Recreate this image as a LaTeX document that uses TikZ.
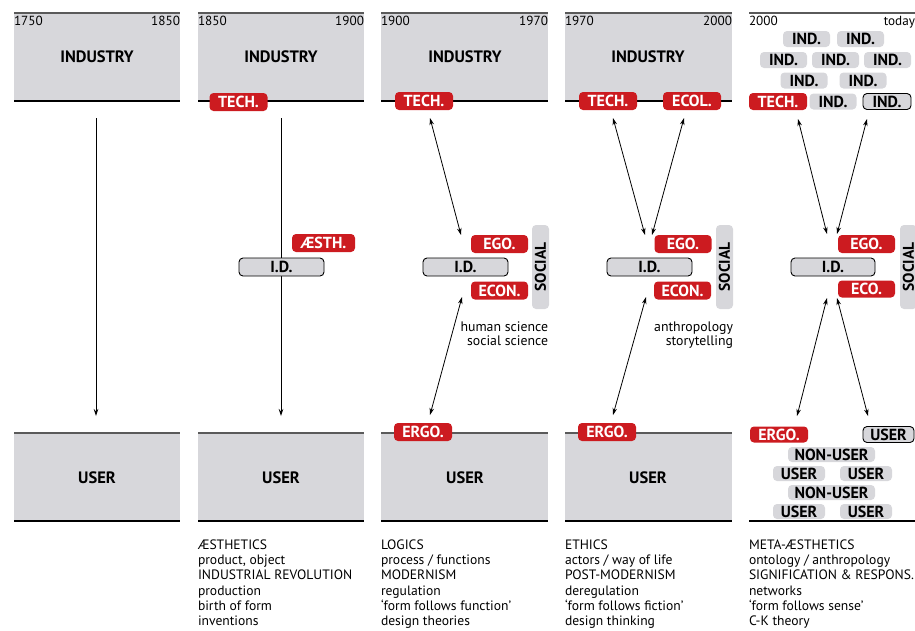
\documentclass[tikz,border=0pt]{standalone}
\usepackage{fontspec}
\setmainfont{PT Sans}
\usetikzlibrary{arrows.meta}
\definecolor{lred}{RGB}{204,27,32}
\definecolor{lgrey}{RGB}{215,215,219}
\definecolor{dline}{RGB}{90,90,90}
\begin{document}
\begin{tikzpicture}[x=1pt,y=-1pt,
  every node/.style={inner sep=0pt, outer sep=0pt},
  panel/.style={fill=lgrey},
  topline/.style={draw=dline, line width=2pt},
  botline/.style={draw=black, line width=1.1pt},
  title/.style={font=\fontsize{16.5}{17}\selectfont\bfseries},
  year/.style={font=\fontsize{13.2}{14}\selectfont, anchor=base},
  lab/.style={rounded corners=4pt, font=\fontsize{16}{16}\selectfont\bfseries, minimum height=18pt},
  redlab/.style={lab, fill=lred, text=white, minimum width=58pt},
  greylab/.style={lab, fill=lgrey, text=black, minimum width=47pt, minimum height=16pt},
  greyout/.style={greylab, draw=black, line width=0.9pt},
  idbox/.style={lab, fill=lgrey, draw=black, line width=0.9pt, minimum width=85pt},
  social/.style={lab, fill=lgrey, rotate=90, minimum width=84pt, minimum height=17pt, font=\fontsize{15.5}{16}\selectfont\bfseries},
  note/.style={font=\fontsize{13.8}{15}\selectfont, anchor=base east},
  desc/.style={font=\fontsize{13.6}{15}\selectfont, anchor=base west},
  arr/.style={draw=black, line width=0.8pt, -{Stealth[length=7pt,width=4.5pt]}},
  darr/.style={draw=black, line width=0.8pt, {Stealth[length=7pt,width=4.5pt]}-{Stealth[length=7pt,width=4.5pt]}}
]
\useasboundingbox (0,0) rectangle (915,630);

% ---- panels ----
\foreach \a/\b in {14/180,198/364,381/548,565/732}{
  \fill[panel] (\a,13) rectangle (\b,101);
  \fill[panel] (\a,433) rectangle (\b,521);
  \draw[botline] (\a,101) -- (\b,101);
  \draw[botline] (\a,521) -- (\b,521);
  \draw[topline] (\a,13) -- (\b,13);
  \draw[topline] (\a,433) -- (\b,433);
}
\draw[topline] (749,13) -- (915,13);
\draw[botline] (749,521) -- (915,521);

% ---- years ----
\node[year, anchor=base west] (y1a) at (14,25) {1750};
\node[year, anchor=base east] (y1b) at (180,25) {1850};
\node[year, anchor=base west] (y2a) at (198,25) {1850};
\node[year, anchor=base east] (y2b) at (364,25) {1900};
\node[year, anchor=base west] (y3a) at (381,25) {1900};
\node[year, anchor=base east] (y3b) at (548,25) {1970};
\node[year, anchor=base west] (y4a) at (565,25) {1970};
\node[year, anchor=base east] (y4b) at (732,25) {2000};
\node[year, anchor=base west] (y5a) at (749,25) {2000};
\node[year, anchor=base east] (y5b) at (915,25) {today};

% ---- titles ----
\foreach \x [count=\i] in {97,281,465,648}{
  \node[title] (ind\i) at (\x,56.5) {INDUSTRY};
  \node[title] (usr\i) at (\x,477.5) {USER};
}

% ---- arrow coordinates ----
\coordinate (a1s) at (96,118);   \coordinate (a1e) at (96,416);
\coordinate (a2s) at (281,118);  \coordinate (a2e) at (281,416);
\coordinate (a3t) at (430,118);  \coordinate (a3m) at (461,235);
\coordinate (a3n) at (462,297);  \coordinate (a3b) at (430,415);
\coordinate (a4t) at (613,118);  \coordinate (a4m) at (645,235);
\coordinate (a4u) at (684,118);  \coordinate (a4v) at (652,235);
\coordinate (a4n) at (646,297);  \coordinate (a4b) at (613,415);
\coordinate (a5t) at (798,119);  \coordinate (a5m) at (827,234);
\coordinate (a5u) at (867,119);  \coordinate (a5v) at (837,234);
\coordinate (a5n) at (827,298);  \coordinate (a5b) at (797,416);
\coordinate (a5p) at (837,298);  \coordinate (a5q) at (868,416);

\draw[arr] (a1s) -- (a1e);
\draw[arr] (a2s) -- (a2e);
\draw[darr] (a3t) -- (a3m);
\draw[darr] (a3n) -- (a3b);
\draw[darr] (a4t) -- (a4m);
\draw[darr] (a4u) -- (a4v);
\draw[darr] (a4n) -- (a4b);
\draw[darr] (a5t) -- (a5m);
\draw[darr] (a5u) -- (a5v);
\draw[darr] (a5n) -- (a5b);
\draw[darr] (a5p) -- (a5q);

% ---- column 2 ----
\node[redlab] (tech2) at (238.5,102) {TECH.};
\node[redlab, minimum width=63pt] (aesth2) at (323.5,243) {ÆSTH.};
\node[idbox] (id2) at (281.5,267) {I.D.};

% ---- column 3 ----
\node[redlab] (tech3) at (424,101) {TECH.};
\node[redlab, minimum width=57pt] (ego3) at (499.5,244) {EGO.};
\node[idbox] (id3) at (465.5,267) {I.D.};
\node[redlab, minimum width=57pt] (econ3) at (499.5,290.5) {ECON.};
\node[social] (soc3) at (540.5,267) {SOCIAL};
\node[note] (n3a) at (548,331) {human science};
\node[note] (n3b) at (548,345.5) {social science};
\node[redlab] (ergo3) at (423,432) {ERGO.};

% ---- column 4 ----
\node[redlab] (tech4) at (608,101) {TECH.};
\node[redlab] (ecol4) at (692,101) {ECOL.};
\node[redlab, minimum width=57pt] (ego4) at (683,244) {EGO.};
\node[idbox] (id4) at (649.5,267) {I.D.};
\node[redlab, minimum width=57pt] (econ4) at (682.5,290.5) {ECON.};
\node[social] (soc4) at (724.5,267) {SOCIAL};
\node[note] (n4a) at (733,331) {anthropology};
\node[note] (n4b) at (733,345.5) {storytelling};
\node[redlab] (ergo4) at (607,432) {ERGO.};

% ---- column 5 top ----
\node[greylab] (i51) at (806.5,39) {IND.};
\node[greylab] (i52) at (860.5,39) {IND.};
\node[greylab] (i53) at (783.5,60) {IND.};
\node[greylab] (i54) at (835.5,60) {IND.};
\node[greylab] (i55) at (887.5,60) {IND.};
\node[greylab] (i56) at (804,80.5) {IND.};
\node[greylab] (i57) at (863,80.5) {IND.};
\node[redlab, minimum height=17pt] (tech5) at (778,101.5) {TECH.};
\node[greylab] (i58) at (833,101.5) {IND.};
\node[greyout, minimum width=48pt] (i59) at (887,101.5) {IND.};

% ---- column 5 middle ----
\node[redlab, minimum width=57pt] (ego5) at (866.5,244) {EGO.};
\node[idbox, minimum width=84pt] (id5) at (833,267) {I.D.};
\node[redlab, minimum width=57pt, minimum height=17pt] (eco5) at (866.5,289) {ECO.};
\node[social] (soc5) at (908.5,267) {SOCIAL};

% ---- column 5 bottom ----
\node[redlab, minimum height=16pt] (ergo5) at (779,434.5) {ERGO.};
\node[greyout, minimum width=51pt] (u51) at (888.5,434.5) {USER};
\node[greylab, minimum width=87pt, minimum height=15pt] (nu51) at (831.5,454.5) {NON-USER};
\node[greylab, minimum width=52pt, minimum height=15pt] (u52) at (799,473.5) {USER};
\node[greylab, minimum width=52pt, minimum height=15pt] (u53) at (866,473.5) {USER};
\node[greylab, minimum width=87pt, minimum height=15pt] (nu52) at (831.5,492.5) {NON-USER};
\node[greylab, minimum width=52pt, minimum height=15pt] (u54) at (799,511.5) {USER};
\node[greylab, minimum width=52pt, minimum height=15pt] (u55) at (866,511.5) {USER};

% ---- bottom descriptions ----
\foreach \t [count=\i from 0] in {ÆSTHETICS,{product, object},INDUSTRIAL REVOLUTION,production,birth of form,inventions}{
  \node[desc] (d2-\i) at (198,549.5+15.2*\i) {\t};
}
\foreach \t [count=\i from 0] in {LOGICS,process / functions,MODERNISM,regulation,‘form follows function’,design theories}{
  \node[desc] (d3-\i) at (381,549.5+15.2*\i) {\t};
}
\foreach \t [count=\i from 0] in {ETHICS,actors / way of life,POST-MODERNISM,deregulation,‘form follows fiction’,design thinking}{
  \node[desc] (d4-\i) at (565,549.5+15.2*\i) {\t};
}
\foreach \t [count=\i from 0] in {META-ÆSTHETICS,ontology / anthropology,SIGNIFICATION \& RESPONS.,networks,‘form follows sense’,C-K theory}{
  \node[desc] (d5-\i) at (749,549.5+15.2*\i) {\t};
}
\end{tikzpicture}
\end{document}
